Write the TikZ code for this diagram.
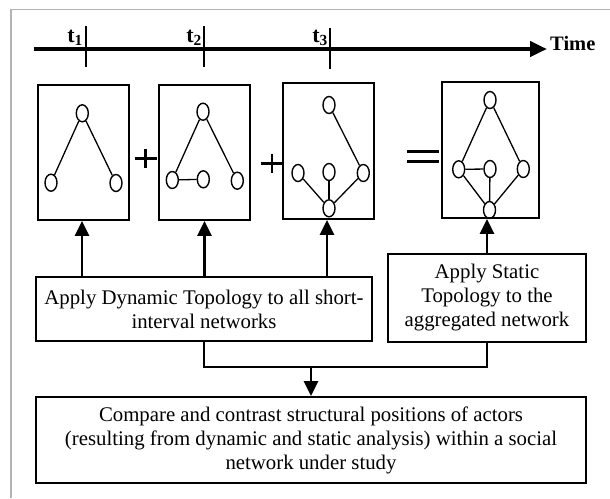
\documentclass[tikz,border=0pt]{standalone}
\usepackage{fontspec}
\setmainfont{Liberation Serif}
\usetikzlibrary{arrows.meta,shapes.geometric}

\begin{document}
\begin{tikzpicture}[x=1pt,y=-1pt,
  actor/.style={draw,ellipse,line width=1.4pt,minimum width=12pt,minimum height=17pt,inner sep=0pt},
  tie/.style={line width=1.3pt},
  panel/.style={draw,line width=1.8pt,minimum width=91pt,minimum height=135pt,inner sep=0pt},
  stepbox/.style={draw,line width=1.8pt,align=center,inner sep=0pt,font=\fontsize{20.8}{24}\selectfont},
  flow/.style={line width=2.8pt,-{Triangle[length=15pt,width=14pt]}},
  link/.style={line width=2.8pt},
  tick/.style={line width=1.5pt},
  tlabel/.style={anchor=base east,inner sep=0pt,font=\fontsize{22}{24}\selectfont\bfseries},
  sign/.style={line width=2.6pt},
]
\useasboundingbox (0,0) rectangle (610,498);

% outer frame
\draw[line width=1.5pt,black!30] (11,498) -- (11,9.5) -- (610,9.5);

% time axis with ticks
\coordinate (tstart) at (34,49);
\coordinate (tend) at (547,49);
\draw[line width=4.5pt,-{Triangle[length=17pt,width=15pt]}] (tstart) -- (tend);
\node[anchor=base west,inner sep=0pt,font=\fontsize{20.5}{24}\selectfont\bfseries] (timelbl) at (550,50) {Time};
\draw[tick] (86,26) -- (86,67);
\draw[tick] (204,26) -- (204,67);
\draw[tick] (330,28) -- (330,69);
\node[tlabel] (t1) at (83,42) {t\textsubscript{1}};
\node[tlabel] (t2) at (202,42) {t\textsubscript{2}};
\node[tlabel] (t3) at (328,42) {t\textsubscript{3}};

% short-interval networks and the aggregate
\node[panel] (p1) at (83.5,152.5) {};
\node[panel] (p2) at (204.5,152.5) {};
\node[panel,minimum height=136pt] (p3) at (328.5,151) {};
\node[panel,minimum width=97pt,minimum height=136pt] (p4) at (490.5,150) {};

% network 1
\node[actor] (a1) at (82.3,113.3) {};
\node[actor] (a2) at (51,182.7) {};
\node[actor] (a3) at (116,183) {};
\draw[tie] (a1) -- (a2);
\draw[tie] (a1) -- (a3);

% network 2
\node[actor] (b1) at (203,111.7) {};
\node[actor] (b2) at (172.3,180) {};
\node[actor] (b3) at (203.3,179.3) {};
\node[actor] (b4) at (237.3,180.7) {};
\draw[tie] (b1) -- (b2);
\draw[tie] (b1) -- (b4);
\draw[tie] (b2) -- (b3);

% network 3
\node[actor] (c1) at (329,105) {};
\node[actor] (c2) at (298,173) {};
\node[actor] (c3) at (329,172) {};
\node[actor] (c4) at (363.3,173) {};
\node[actor] (c5) at (329,208.3) {};
\draw[tie] (c1) -- (c4);
\draw[tie] (c2) -- (c5);
\draw[tie] (c3) -- (c5);
\draw[tie] (c4) -- (c5);

% aggregated network
\node[actor] (d1) at (490,100) {};
\node[actor] (d2) at (458.7,169.3) {};
\node[actor] (d3) at (490,169) {};
\node[actor] (d4) at (523.3,169) {};
\node[actor] (d5) at (489.5,210) {};
\draw[tie] (d1) -- (d2);
\draw[tie] (d1) -- (d4);
\draw[tie] (d2) -- (d3);
\draw[tie] (d2) -- (d5);
\draw[tie] (d3) -- (d5);
\draw[tie] (d4) -- (d5);

% plus and equals signs
\draw[sign] (134.7,158.7) -- (156.7,158.7);
\draw[sign] (145.7,149.2) -- (145.7,168.2);
\draw[sign] (261,163.3) -- (283,163.3);
\draw[sign] (272,153.8) -- (272,172.8);
\draw[line width=3.4pt] (407,151.5) -- (439,151.5);
\draw[line width=3.4pt] (407,161.5) -- (439,161.5);

% analysis steps
\node[stepbox,minimum width=336pt,minimum height=64pt] (dyn) at (204,309)
  {Apply Dynamic Topology to all short-\\interval networks};
\node[stepbox,minimum width=198pt,minimum height=88pt] (stat) at (487,298)
  {Apply Static\\Topology to the\\aggregated network};
\node[stepbox,minimum width=550pt,minimum height=86pt] (cmp) at (311,440)
  {Compare and contrast structural positions of actors\\(resulting from dynamic and static analysis) within a social\\network under study};

% arrows up into the networks
\draw[flow] (dyn.north -| 82,0) -- (82,0 |- p1.south);
\draw[flow] (dyn.north -| p2.south) -- (p2.south);
\draw[flow] (dyn.north -| 327,0) -- (327,0 |- p3.south);
\draw[flow] (stat.north) -- (stat.north |- p4.south);

% merging both analyses
\coordinate (bus) at (0,367);
\draw[link] (dyn.south) |- (bus -| stat.south) -- (stat.south);
\draw[flow] (bus -| cmp.north) -- (cmp.north);
\end{tikzpicture}
\end{document}
